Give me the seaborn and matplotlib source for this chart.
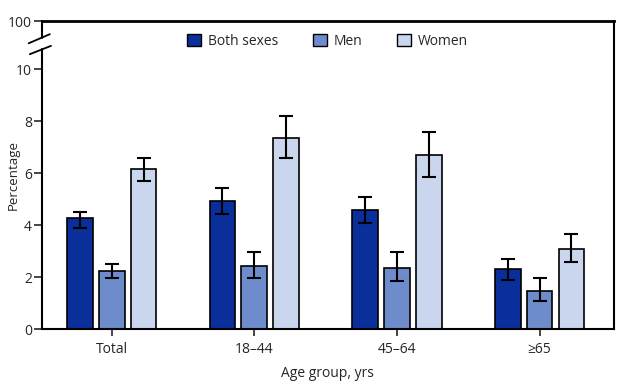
import numpy as np
import pandas as pd
import matplotlib
matplotlib.use("Agg")
import matplotlib.pyplot as plt
import matplotlib.transforms as mtransforms
import seaborn as sns

# Data
age_groups = ["Total", "18\u201344", "45\u201364", "\u226565"]
series = ["Both sexes", "Men", "Women"]

both_vals = [4.26, 4.92, 4.60, 2.33]
both_lo = [3.90, 4.42, 4.09, 1.91]
both_hi = [4.49, 5.45, 5.09, 2.70]

men_vals = [2.23, 2.43, 2.37, 1.46]
men_lo = [1.97, 1.97, 1.87, 1.08]
men_hi = [2.49, 2.97, 2.97, 1.97]

women_vals = [6.17, 7.37, 6.69, 3.09]
women_lo = [5.70, 6.57, 5.87, 2.57]
women_hi = [6.60, 8.20, 7.58, 3.68]

colors = ["#0a2f9a", "#6e8ccc", "#cad6ee"]

y_ticks = [0, 2, 4, 6, 8, 10]
y_top = 11.85  # axis position that is labelled "100" above the break

df = pd.DataFrame({
    "age": age_groups * 3,
    "sex": [s for s in series for _ in age_groups],
    "pct": both_vals + men_vals + women_vals,
    "lo": both_lo + men_lo + women_lo,
    "hi": both_hi + men_hi + women_hi,
})

sns.set_style("white")
plt.rcParams["font.family"] = ["Open Sans", "DejaVu Sans"]

fig = plt.figure(figsize=(6.34, 3.85), dpi=100)
ax = fig.add_axes([0.066, 0.145, 0.902, 0.80])

sns.barplot(
    data=df, x="age", y="pct", hue="sex", order=age_groups, hue_order=series,
    palette=colors, saturation=1, width=0.67, gap=0.19, errorbar=None,
    edgecolor="black", linewidth=1.2, ax=ax, legend=True,
)

# confidence intervals
for sex, cont in zip(series, ax.containers):
    sub = df[df["sex"] == sex].set_index("age").loc[age_groups]
    xs = [b.get_x() + b.get_width() / 2 for b in cont]
    ax.errorbar(xs, sub["pct"], yerr=[sub["pct"] - sub["lo"], sub["hi"] - sub["pct"]],
                fmt="none", ecolor="black", elinewidth=1.5, capsize=5, capthick=1.5,
                zorder=5)

ax.set_xlim(-0.49, 3.52)
ax.set_ylim(0, y_top)
ax.set_yticks(y_ticks + [y_top])
ax.set_yticklabels([str(t) for t in y_ticks] + ["100"])
ax.tick_params(axis="x", labelsize=10, length=5, width=1.2, direction="out", bottom=True, pad=4)
ax.tick_params(axis="y", labelsize=10, length=6, width=1.2, direction="out", left=True, pad=1)
ax.set_xlabel("Age group, yrs", fontsize=10, labelpad=7)
ax.set_ylabel("Percentage", fontsize=9.5)
ax.yaxis.set_label_coords(-0.038, 0.5)

for side in ["top", "right", "bottom"]:
    ax.spines[side].set_visible(True)
    ax.spines[side].set_color("black")
    ax.spines[side].set_linewidth(1.5)
ax.spines["top"].set_linewidth(2)
ax.spines["left"].set_visible(False)

# broken left axis
trans = mtransforms.blended_transform_factory(ax.transAxes, ax.transData)
ax.plot([0, 0], [0, 10.77], color="black", lw=1.5, transform=trans, clip_on=False)
ax.plot([0, 0], [11.2, y_top], color="black", lw=1.5, transform=trans, clip_on=False)
ax.plot([-0.023, 0.014], [11.0, 11.35], color="black", lw=1.3, transform=trans, clip_on=False)
ax.plot([-0.021, 0.016], [10.58, 10.9], color="black", lw=1.3, transform=trans, clip_on=False)

leg = ax.legend(loc="upper center", bbox_to_anchor=(0.5, 1.0), ncol=3, frameon=False,
                fontsize=10, handlelength=1.0, handleheight=1.0, columnspacing=2.5,
                handletextpad=0.5)
for h in leg.legend_handles:
    h.set_edgecolor("black")
    h.set_linewidth(1.0)

fig.savefig("out.png", dpi=100)
